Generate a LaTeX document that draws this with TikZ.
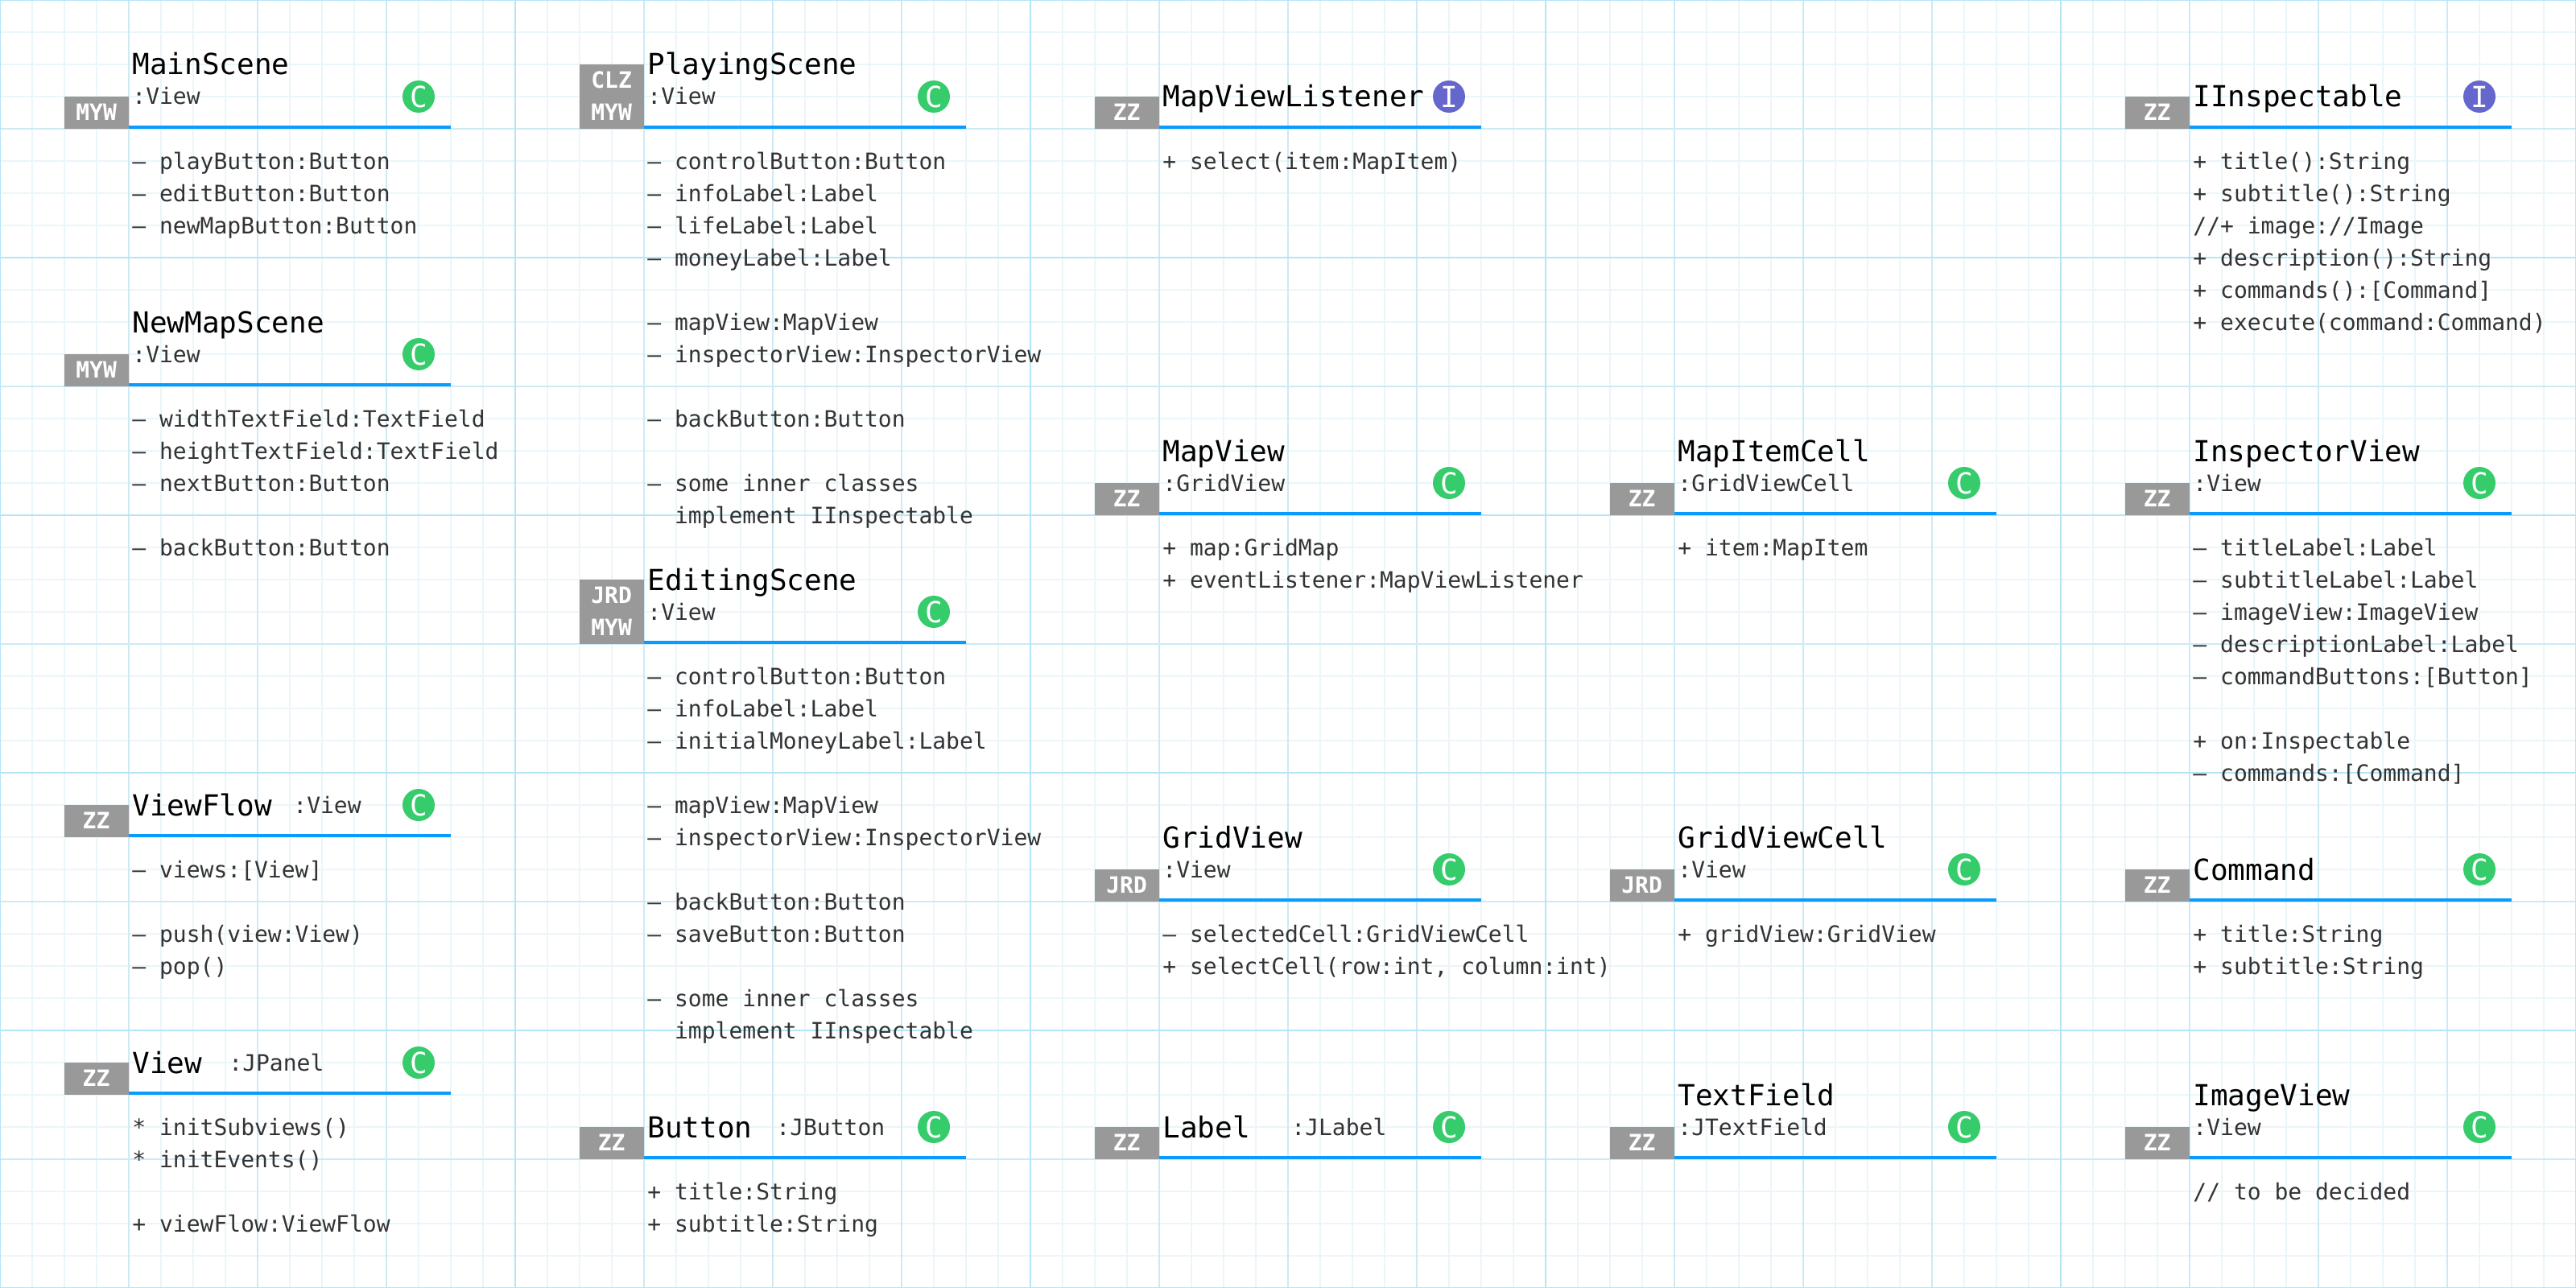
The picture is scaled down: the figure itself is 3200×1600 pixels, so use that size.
\documentclass[tikz,border=0pt]{standalone}
\usepackage{fontspec}
\setmonofont[WordSpace={1,0,0}]{DejaVu Sans Mono}
\newfontfamily\tagfont{DejaVu Sans Mono Bold}
\definecolor{gridminor}{HTML}{EBF6FA}
\definecolor{gridmedium}{HTML}{CDEAF5}
\definecolor{gridstrong}{HTML}{B4E6F7}
\definecolor{tagfill}{HTML}{999999}
\definecolor{rulefill}{HTML}{0A9BFF}
\definecolor{classfill}{HTML}{36CC6C}
\definecolor{ifacefill}{HTML}{6667CC}
\definecolor{bodyink}{HTML}{333333}
\tikzset{
  tagbox/.style={fill=tagfill,text=white,font=\tagfont\fontsize{14pt}{20pt}\selectfont,inner sep=0pt,minimum width=40pt,text height=15pt,text depth=5pt,anchor=south east},
  namebox/.style={font=\ttfamily\fontsize{18pt}{20pt}\selectfont,text=black,inner sep=0pt,anchor=base west},
  basebox/.style={font=\ttfamily\fontsize{14pt}{20pt}\selectfont,text=bodyink,inner sep=0pt,anchor=base west},
  bodybox/.style={font=\ttfamily\fontsize{14pt}{20pt}\selectfont,text=bodyink,inner sep=0pt,align=left,anchor=north west},
  markbox/.style={circle,text=white,font=\ttfamily\fontsize{18pt}{20pt}\selectfont,inner sep=0pt,minimum size=20pt},
  classmark/.style={markbox,fill=classfill},
  ifacemark/.style={markbox,fill=ifacefill},
  rulebar/.style={fill=rulefill,draw=none}
}
\begin{document}
\begin{tikzpicture}[x=0.5pt,y=-0.5pt]
\useasboundingbox (0,0) rectangle (3200,1600);
\fill[white] (0,0) rectangle (3200,1600);
% grid
\foreach \x in {0,40,...,3200} \draw[gridminor,line width=1pt] (\x,0) -- (\x,1600);
\foreach \y in {0,40,...,1600} \draw[gridminor,line width=1pt] (0,\y) -- (3200,\y);
\foreach \x in {0,160,...,3200} \draw[gridmedium,line width=1pt] (\x,0) -- (\x,1600);
\foreach \y in {0,160,...,1600} \draw[gridmedium,line width=1pt] (0,\y) -- (3200,\y);
\foreach \x in {0,640,...,3200} \draw[gridstrong,line width=1pt] (\x,0) -- (\x,1600);
\foreach \y in {0,320,...,1600} \draw[gridstrong,line width=1pt] (0,\y) -- (3200,\y);

% first column
\node[tagbox] (mainTag) at (160,160) {MYW};
\node[namebox] (mainName) at (164,93) {MainScene};
\node[basebox] (mainBase) at (164,130) {:View};
\node[classmark] (mainMark) at (520,120) {C};
\fill[rulebar] (160,156) rectangle (560,160);
\node[bodybox] (mainBody) at (164,189) {– playButton:Button\\– editButton:Button\\– newMapButton:Button};

\node[tagbox] (newMapTag) at (160,480) {MYW};
\node[namebox] (newMapName) at (164,413) {NewMapScene};
\node[basebox] (newMapBase) at (164,450) {:View};
\node[classmark] (newMapMark) at (520,440) {C};
\fill[rulebar] (160,476) rectangle (560,480);
\node[bodybox] (newMapBody) at (164,509) {– widthTextField:TextField\\– heightTextField:TextField\\– nextButton:Button\\~\\– backButton:Button};

\node[tagbox] (flowTag) at (160,1040) {ZZ};
\node[namebox] (flowName) at (164,1013) {ViewFlow};
\node[basebox] (flowBase) at (364,1010) {:View};
\node[classmark] (flowMark) at (520,1000) {C};
\fill[rulebar] (160,1036) rectangle (560,1040);
\node[bodybox] (flowBody) at (164,1069) {– views:[View]\\~\\– push(view:View)\\– pop()};

\node[tagbox] (viewTag) at (160,1360) {ZZ};
\node[namebox] (viewName) at (164,1333) {View};
\node[basebox] (viewBase) at (284,1330) {:JPanel};
\node[classmark] (viewMark) at (520,1320) {C};
\fill[rulebar] (160,1356) rectangle (560,1360);
\node[bodybox] (viewBody) at (164,1389) {{*} initSubviews()\\{*} initEvents()\\~\\+ viewFlow:ViewFlow};

% second column
\node[tagbox] (playTagA) at (800,120) {CLZ};
\node[tagbox] (playTagB) at (800,160) {MYW};
\node[namebox] (playName) at (804,93) {PlayingScene};
\node[basebox] (playBase) at (804,130) {:View};
\node[classmark] (playMark) at (1160,120) {C};
\fill[rulebar] (800,156) rectangle (1200,160);
\node[bodybox] (playBody) at (804,189) {– controlButton:Button\\– infoLabel:Label\\– lifeLabel:Label\\– moneyLabel:Label\\~\\– mapView:MapView\\– inspectorView:InspectorView\\~\\– backButton:Button\\~\\– some inner classes\\~~implement IInspectable};

\node[tagbox] (editTagA) at (800,760) {JRD};
\node[tagbox] (editTagB) at (800,800) {MYW};
\node[namebox] (editName) at (804,733) {EditingScene};
\node[basebox] (editBase) at (804,770) {:View};
\node[classmark] (editMark) at (1160,760) {C};
\fill[rulebar] (800,796) rectangle (1200,800);
\node[bodybox] (editBody) at (804,829) {– controlButton:Button\\– infoLabel:Label\\– initialMoneyLabel:Label\\~\\– mapView:MapView\\– inspectorView:InspectorView\\~\\– backButton:Button\\– saveButton:Button\\~\\– some inner classes\\~~implement IInspectable};

\node[tagbox] (buttonTag) at (800,1440) {ZZ};
\node[namebox] (buttonName) at (804,1413) {Button};
\node[basebox] (buttonBase) at (964,1410) {:JButton};
\node[classmark] (buttonMark) at (1160,1400) {C};
\fill[rulebar] (800,1436) rectangle (1200,1440);
\node[bodybox] (buttonBody) at (804,1469) {+ title:String\\+ subtitle:String};

% third column
\node[tagbox] (listenerTag) at (1440,160) {ZZ};
\node[namebox] (listenerName) at (1444,133) {MapViewListener};
\node[ifacemark] (listenerMark) at (1800,120) {I};
\fill[rulebar] (1440,156) rectangle (1840,160);
\node[bodybox] (listenerBody) at (1444,189) {+ select(item:MapItem)};

\node[tagbox] (mapTag) at (1440,640) {ZZ};
\node[namebox] (mapName) at (1444,573) {MapView};
\node[basebox] (mapBase) at (1444,610) {:GridView};
\node[classmark] (mapMark) at (1800,600) {C};
\fill[rulebar] (1440,636) rectangle (1840,640);
\node[bodybox] (mapBody) at (1444,669) {+ map:GridMap\\+ eventListener:MapViewListener};

\node[tagbox] (gridTag) at (1440,1120) {JRD};
\node[namebox] (gridName) at (1444,1053) {GridView};
\node[basebox] (gridBase) at (1444,1090) {:View};
\node[classmark] (gridMark) at (1800,1080) {C};
\fill[rulebar] (1440,1116) rectangle (1840,1120);
\node[bodybox] (gridBody) at (1444,1149) {– selectedCell:GridViewCell\\+ selectCell(row:int, column:int)};

\node[tagbox] (labelTag) at (1440,1440) {ZZ};
\node[namebox] (labelName) at (1444,1413) {Label};
\node[basebox] (labelBase) at (1604,1410) {:JLabel};
\node[classmark] (labelMark) at (1800,1400) {C};
\fill[rulebar] (1440,1436) rectangle (1840,1440);

% fourth column
\node[tagbox] (itemTag) at (2080,640) {ZZ};
\node[namebox] (itemName) at (2084,573) {MapItemCell};
\node[basebox] (itemBase) at (2084,610) {:GridViewCell};
\node[classmark] (itemMark) at (2440,600) {C};
\fill[rulebar] (2080,636) rectangle (2480,640);
\node[bodybox] (itemBody) at (2084,669) {+ item:MapItem};

\node[tagbox] (cellTag) at (2080,1120) {JRD};
\node[namebox] (cellName) at (2084,1053) {GridViewCell};
\node[basebox] (cellBase) at (2084,1090) {:View};
\node[classmark] (cellMark) at (2440,1080) {C};
\fill[rulebar] (2080,1116) rectangle (2480,1120);
\node[bodybox] (cellBody) at (2084,1149) {+ gridView:GridView};

\node[tagbox] (fieldTag) at (2080,1440) {ZZ};
\node[namebox] (fieldName) at (2084,1373) {TextField};
\node[basebox] (fieldBase) at (2084,1410) {:JTextField};
\node[classmark] (fieldMark) at (2440,1400) {C};
\fill[rulebar] (2080,1436) rectangle (2480,1440);

% fifth column
\node[tagbox] (inspTag) at (2720,160) {ZZ};
\node[namebox] (inspName) at (2724,133) {IInspectable};
\node[ifacemark] (inspMark) at (3080,120) {I};
\fill[rulebar] (2720,156) rectangle (3120,160);
\node[bodybox] (inspBody) at (2724,189) {+ title():String\\+ subtitle():String\\//+ image://Image\\+ description():String\\+ commands():[Command]\\+ execute(command:Command)};

\node[tagbox] (viewerTag) at (2720,640) {ZZ};
\node[namebox] (viewerName) at (2724,573) {InspectorView};
\node[basebox] (viewerBase) at (2724,610) {:View};
\node[classmark] (viewerMark) at (3080,600) {C};
\fill[rulebar] (2720,636) rectangle (3120,640);
\node[bodybox] (viewerBody) at (2724,669) {– titleLabel:Label\\– subtitleLabel:Label\\– imageView:ImageView\\– descriptionLabel:Label\\– commandButtons:[Button]\\~\\+ on:Inspectable\\– commands:[Command]};

\node[tagbox] (commandTag) at (2720,1120) {ZZ};
\node[namebox] (commandName) at (2724,1093) {Command};
\node[classmark] (commandMark) at (3080,1080) {C};
\fill[rulebar] (2720,1116) rectangle (3120,1120);
\node[bodybox] (commandBody) at (2724,1149) {+ title:String\\+ subtitle:String};

\node[tagbox] (imageTag) at (2720,1440) {ZZ};
\node[namebox] (imageName) at (2724,1373) {ImageView};
\node[basebox] (imageBase) at (2724,1410) {:View};
\node[classmark] (imageMark) at (3080,1400) {C};
\fill[rulebar] (2720,1436) rectangle (3120,1440);
\node[bodybox] (imageBody) at (2724,1469) {// to be decided};
\end{tikzpicture}
\end{document}
